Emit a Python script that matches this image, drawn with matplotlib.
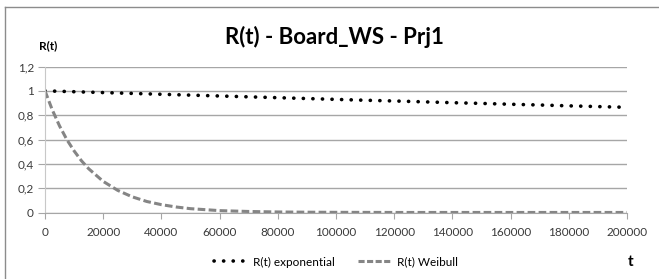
import matplotlib.pyplot as plt
from matplotlib.lines import Line2D

plt.rcParams['font.family'] = ['Lato', 'DejaVu Sans']

# exponential reliability
t_exp = [0, 10000, 20000, 30000, 40000, 50000, 60000, 70000, 80000, 90000, 100000,
         110000, 120000, 130000, 140000, 150000, 160000, 170000, 180000, 190000, 200000]
r_exp = [1.0, 0.993, 0.986, 0.979, 0.972, 0.965, 0.958, 0.951, 0.944, 0.937, 0.930,
         0.923, 0.917, 0.910, 0.903, 0.897, 0.890, 0.884, 0.877, 0.871, 0.865]

# weibull reliability
t_wei = [0, 2500, 5000, 7500, 10000, 12500, 15000, 20000, 25000, 30000, 35000, 40000,
         45000, 50000, 60000, 70000, 80000, 90000, 100000, 120000, 140000, 160000,
         180000, 200000]
r_wei = [1.0, 0.844, 0.712, 0.600, 0.507, 0.427, 0.361, 0.257, 0.183, 0.130, 0.092, 0.066,
         0.047, 0.033, 0.017, 0.010, 0.006, 0.004, 0.003, 0.002, 0.002, 0.002,
         0.002, 0.002]

yticks = [0, 0.2, 0.4, 0.6, 0.8, 1.0, 1.2]
ylabels = ['0', '0,2', '0,4', '0,6', '0,8', '1', '1,2']
xticks = list(range(0, 200001, 20000))

W, H = 659, 279
fig = plt.figure(figsize=(W / 100, H / 100), dpi=100)
ax = fig.add_axes([45 / W, 1 - 212.7 / H, 582 / W, 146.2 / H])

grid_c = '#a6a6a6'
ax.plot(t_exp, r_exp, color='black', lw=2.6, linestyle=(0, (0.05, 2.6)),
        dash_capstyle='round', label='R(t) exponential')
ax.plot(t_wei, r_wei, color='#858585', lw=2.2, linestyle=(0, (2.5, 1.1)),
        label='R(t) Weibull')

ax.set_xlim(0, 200000)
ax.set_ylim(0, 1.2)
ax.set_xticks(xticks)
ax.set_xticklabels([str(x) for x in xticks])
ax.set_yticks(yticks)
ax.set_yticklabels(ylabels)
ax.yaxis.grid(True, color=grid_c, lw=1)
ax.set_axisbelow(True)
for s in ['top', 'right']:
    ax.spines[s].set_visible(False)
ax.spines['left'].set_color('#c8c8c8')
ax.spines['bottom'].set_color(grid_c)
ax.tick_params(axis='x', length=4, color=grid_c, labelsize=8.5, pad=6, labelcolor='#3a3a3a')
ax.tick_params(axis='y', length=5, color=grid_c, labelsize=8.5, pad=3, labelcolor='#3a3a3a')

fig.text(334 / W, 1 - 37 / H, 'R(t) - Board_WS - Prj1', ha='center', va='center',
         fontsize=16, fontweight='bold')
fig.text(48 / W, 1 - 46 / H, 'R(t)', ha='center', va='center', fontsize=8.5, fontweight='bold')
fig.text(631 / W, 1 - 262 / H, 't', ha='center', va='center', fontsize=11, fontweight='bold')

handles = [Line2D([], [], color='black', lw=2.6, linestyle=(0, (0.05, 2.6)), dash_capstyle='round'),
           Line2D([], [], color='#858585', lw=2.2, linestyle=(0, (2.0, 0.8)))]
fig.legend(handles, ['R(t) exponential', 'R(t) Weibull'], loc='center',
           bbox_to_anchor=(336 / W, 1 - 262 / H), ncol=2, frameon=False, fontsize=8.5,
           handlelength=2.8, columnspacing=2.0, handletextpad=0.5)

# chart border
fig.add_artist(Line2D([5 / W, 1], [1 - 7 / H, 1 - 7 / H], color='#8c8c8c', lw=1))
fig.add_artist(Line2D([5 / W, 5 / W], [0, 1 - 7 / H], color='#8c8c8c', lw=1))

fig.savefig('out.png', dpi=100)
